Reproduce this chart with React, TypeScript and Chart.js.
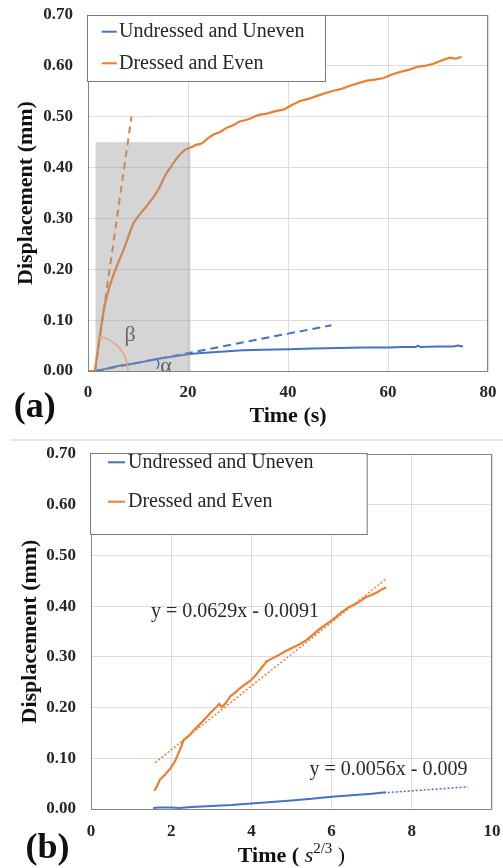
import React, { useEffect, useRef } from "react";
import { Chart, registerables } from "chart.js";
Chart.register(...registerables);

const SERIF = "'Liberation Serif', 'Times New Roman', Times, serif";
const ORANGE = "#ED7D31";
const BLUE = "#4472C4";
const TEXT = "#262626";
const GRID = "#dcdcdc";

const seriesNames = ["Undressed and Uneven", "Dressed and Even"];
const yTickValues = [0, 0.1, 0.2, 0.3, 0.4, 0.5, 0.6, 0.7];

// ---------- Panel (a): displacement vs time (s)
const xTicksA = [0, 20, 40, 60, 80];
const timeA_dressed = [0, 1.4, 1.8, 2.2, 2.6, 3.0, 3.4, 3.9, 4.5, 5.1, 5.8, 6.5, 7.1, 7.8, 8.5, 9.1, 10.1, 11.1, 11.8, 12.4, 13.1, 13.8, 14.4, 15.0, 15.7, 16.4, 17.1, 17.9, 18.7, 19.4, 20.1, 20.9, 21.7, 22.4, 23.0, 24.0, 25.1, 26.4, 27.7, 29.0, 30.4, 31.4, 32.4, 33.4, 34.4, 35.8, 37.5, 39.1, 40.8, 42.4, 44.1, 45.8, 47.4, 49.1, 50.8, 52.4, 54.1, 55.8, 57.4, 59.1, 60.8, 62.4, 64.1, 65.8, 67.4, 69.1, 70.8, 72.4, 73.6, 74.7];
const dispA_dressed = [0, 0, 0.03, 0.058, 0.085, 0.11, 0.132, 0.152, 0.172, 0.189, 0.207, 0.224, 0.238, 0.257, 0.276, 0.291, 0.305, 0.317, 0.325, 0.333, 0.342, 0.352, 0.363, 0.376, 0.389, 0.399, 0.409, 0.42, 0.429, 0.435, 0.438, 0.441, 0.445, 0.446, 0.449, 0.458, 0.465, 0.47, 0.478, 0.483, 0.491, 0.493, 0.496, 0.501, 0.504, 0.506, 0.511, 0.514, 0.523, 0.531, 0.535, 0.541, 0.546, 0.551, 0.555, 0.561, 0.566, 0.571, 0.573, 0.576, 0.583, 0.588, 0.592, 0.598, 0.6, 0.604, 0.611, 0.616, 0.614, 0.618];
const timeA_undressed = [1.4, 2.5, 3.5, 5, 6.5, 8, 10, 12, 14, 16, 18, 20, 22, 25, 28, 31, 35, 40, 45, 50, 55, 60, 63, 65.5, 66, 66.5, 70, 73, 74, 75];
const dispA_undressed = [0, 0.002, 0.004, 0.008, 0.011, 0.013, 0.016, 0.02, 0.024, 0.027, 0.03, 0.033, 0.035, 0.037, 0.039, 0.041, 0.042, 0.043, 0.044, 0.045, 0.046, 0.046, 0.047, 0.047, 0.05, 0.047, 0.048, 0.048, 0.05, 0.048];
const tangentA_dressed_t = [1.4, 8.7];
const tangentA_dressed_d = [0, 0.5];
const tangentA_undressed_t = [1.5, 48.7];
const tangentA_undressed_d = [0, 0.09];
const shadeA_t = [1.5, 20.5];
const shadeA_d = [0, 0.45];

// ---------- Panel (b): displacement vs time^(2/3)
const xTicksB = [0, 2, 4, 6, 8, 10];
const timeB_dressed = [1.58, 1.65, 1.72, 1.85, 2.0, 2.1, 2.22, 2.31, 2.45, 2.6, 2.75, 2.89, 3.05, 3.14, 3.2, 3.26, 3.35, 3.47, 3.6, 3.71, 3.85, 3.96, 4.1, 4.25, 4.38, 4.5, 4.65, 4.87, 5.05, 5.2, 5.37, 5.55, 5.75, 5.95, 6.1, 6.25, 6.45, 6.6, 6.75, 6.86, 7.0, 7.15, 7.25, 7.36];
const dispB_dressed = [0.036, 0.046, 0.058, 0.068, 0.082, 0.095, 0.117, 0.136, 0.145, 0.158, 0.17, 0.182, 0.195, 0.202, 0.207, 0.201, 0.208, 0.222, 0.23, 0.238, 0.246, 0.252, 0.263, 0.278, 0.291, 0.296, 0.302, 0.312, 0.319, 0.325, 0.333, 0.345, 0.358, 0.369, 0.378, 0.388, 0.399, 0.404, 0.412, 0.418, 0.422, 0.428, 0.433, 0.437];
const timeB_undressed = [1.55, 1.7, 2.0, 2.2, 2.5, 3.0, 3.5, 4.0, 4.5, 5.0, 5.5, 6.0, 6.5, 7.0, 7.35];
const dispB_undressed = [0.002, 0.003, 0.003, 0.002, 0.004, 0.006, 0.008, 0.011, 0.014, 0.017, 0.02, 0.024, 0.027, 0.03, 0.033];
const fitB_dressed_x = [1.6, 7.36];
const fitB_dressed_y = [0.0915, 0.4538];
const fitB_undressed_x = [7.3, 9.4];
const fitB_undressed_y = [0.0319, 0.0436];
const eqB_dressed = "y = 0.0629x - 0.0091";
const eqB_undressed = "y = 0.0056x - 0.009";

const pts = (xs: number[], ys: number[]) => xs.map((x, i) => ({ x, y: ys[i] }));

function lineDs(label: string, data: any[], color: string, width: number, dash: number[] = []) {
  return {
    label,
    data,
    borderColor: color,
    backgroundColor: color,
    borderWidth: width,
    borderDash: dash,
    pointRadius: 0,
    pointHoverRadius: 0,
    fill: false,
    tension: 0,
  };
}

function drawFrame(chart: any) {
  const { ctx, chartArea: a } = chart;
  ctx.save();
  ctx.strokeStyle = "#858585";
  ctx.lineWidth = 1;
  ctx.strokeRect(Math.round(a.left) + 0.5, Math.round(a.top) + 0.5, Math.round(a.right - a.left) - 1, Math.round(a.bottom - a.top));
  ctx.restore();
}

function drawLegend(chart: any, box: { l: number; t: number; r: number; b: number }, rows: number[], lx: number[], tx: number) {
  const { ctx } = chart;
  ctx.save();
  ctx.fillStyle = "#ffffff";
  ctx.fillRect(box.l, box.t, box.r - box.l, box.b - box.t);
  ctx.strokeStyle = "#7a7a7a";
  ctx.lineWidth = 1;
  ctx.strokeRect(box.l + 0.5, box.t + 0.5, box.r - box.l, box.b - box.t);
  const order = [1, 0];
  order.forEach((di, i) => {
    const ds = chart.data.datasets[di];
    const y = rows[i];
    ctx.strokeStyle = ds.borderColor;
    ctx.lineWidth = 2;
    ctx.beginPath();
    ctx.moveTo(lx[0], y);
    ctx.lineTo(lx[1], y);
    ctx.stroke();
    ctx.fillStyle = TEXT;
    ctx.font = `20px ${SERIF}`;
    ctx.textAlign = "left";
    ctx.textBaseline = "middle";
    ctx.fillText(ds.label, tx, y);
  });
  ctx.restore();
}

function drawPanelLetter(chart: any, text: string, x: number, y: number) {
  const { ctx } = chart;
  ctx.save();
  ctx.fillStyle = "#111";
  ctx.font = `bold 36px ${SERIF}`;
  ctx.textAlign = "center";
  ctx.textBaseline = "middle";
  ctx.fillText(text, x, y);
  ctx.restore();
}

const annotA = {
  id: "annotA",
  afterDatasetsDraw(chart: any) {
    const { ctx, scales } = chart;
    const x = scales.x;
    const y = scales.y;
    ctx.save();
    // shaded region
    const x0 = x.getPixelForValue(shadeA_t[0]);
    const x1 = x.getPixelForValue(shadeA_t[1]);
    const y0 = y.getPixelForValue(shadeA_d[0]);
    const y1 = y.getPixelForValue(shadeA_d[1]);
    ctx.fillStyle = "rgba(150,150,150,0.4)";
    ctx.fillRect(x0, y1, x1 - x0, y0 - y1);
    // beta arc
    const cx = x.getPixelForValue(1.0);
    const cy = y.getPixelForValue(0);
    ctx.strokeStyle = "#E9A27A";
    ctx.lineWidth = 1.5;
    ctx.beginPath();
    ctx.arc(cx, cy, 35, (-82 * Math.PI) / 180, 0);
    ctx.stroke();
    // alpha arc
    const ax = x.getPixelForValue(12.4);
    const ay = y.getPixelForValue(0.0138);
    ctx.strokeStyle = BLUE;
    ctx.lineWidth = 1.5;
    ctx.beginPath();
    ctx.arc(ax, ay, 8.5, (-40 * Math.PI) / 180, (35 * Math.PI) / 180);
    ctx.stroke();
    // labels
    ctx.fillStyle = "#6a6a6a";
    ctx.font = `22px ${SERIF}`;
    ctx.textAlign = "center";
    ctx.textBaseline = "middle";
    ctx.fillText("β", x.getPixelForValue(8.4), y.getPixelForValue(0.071));
    ctx.fillStyle = "#5a6070";
    ctx.fillText("α", x.getPixelForValue(15.6), y.getPixelForValue(0.01));
    ctx.restore();
  },
  afterDraw(chart: any) {
    drawFrame(chart);
    drawLegend(chart, { l: 87, t: 15, r: 325, b: 81 }, [31.7, 63.3], [101.7, 116.7], 119);
    drawPanelLetter(chart, "(a)", 34.7, 408);
  },
};

const annotB = {
  id: "annotB",
  afterDatasetsDraw(chart: any) {
    const { ctx, scales } = chart;
    const x = scales.x;
    const y = scales.y;
    ctx.save();
    ctx.fillStyle = "#2a2a2a";
    ctx.font = `20px ${SERIF}`;
    ctx.textAlign = "center";
    ctx.textBaseline = "middle";
    ctx.fillText(eqB_dressed, x.getPixelForValue(3.59), y.getPixelForValue(0.388));
    ctx.fillText(eqB_undressed, x.getPixelForValue(7.42), y.getPixelForValue(0.077));
    ctx.restore();
  },
  afterDraw(chart: any) {
    const { ctx, chartArea: a } = chart;
    drawFrame(chart);
    drawLegend(chart, { l: 90, t: 13, r: 366.7, b: 94 }, [22.3, 61.7], [108, 125], 128);
    drawPanelLetter(chart, "(b)", 47.5, 409);
    // x-axis title: Time ( s^(2/3) )
    ctx.save();
    const parts = [
      { t: "Time (", f: `bold 22px ${SERIF}`, dy: 0 },
      { t: " ", f: `22px ${SERIF}`, dy: 0 },
      { t: "s", f: `italic 22px ${SERIF}`, dy: 0 },
      { t: "2/3", f: `15px ${SERIF}`, dy: -8 },
      { t: " )", f: `22px ${SERIF}`, dy: 0 },
    ];
    let total = 0;
    const widths = parts.map((p) => {
      ctx.font = p.f;
      const w = ctx.measureText(p.t).width;
      total += w;
      return w;
    });
    let cx = (a.left + a.right) / 2 - total / 2;
    const cy = 416.7;
    ctx.fillStyle = "#111";
    ctx.textAlign = "left";
    ctx.textBaseline = "middle";
    parts.forEach((p, i) => {
      ctx.font = p.f;
      ctx.fillText(p.t, cx, cy + p.dy);
      cx += widths[i];
    });
    ctx.restore();
  },
};

function axisCommon(min: number, max: number, tickValues: number[], fmt: (v: number) => string, pad: number) {
  return {
    type: "linear" as const,
    min,
    max,
    afterBuildTicks: (s: any) => {
      s.ticks = tickValues.map((v) => ({ value: v }));
    },
    ticks: {
      callback: (v: any) => fmt(Number(v)),
      font: { family: SERIF, size: 17, weight: "bold" as const },
      color: TEXT,
      padding: pad,
    },
    grid: { color: GRID, lineWidth: 1, drawTicks: false },
    border: { display: false },
  };
}

function fixedFit(size: number, horizontal: boolean) {
  return (s: any) => {
    if (horizontal) s.height = size;
    else s.width = size;
    s.paddingTop = 0;
    s.paddingBottom = 0;
    s.paddingLeft = 0;
    s.paddingRight = 0;
  };
}

function configA() {
  return {
    type: "line" as const,
    data: {
      datasets: [
        lineDs(seriesNames[1], pts(timeA_dressed, dispA_dressed), ORANGE, 2.2),
        lineDs(seriesNames[0], pts(timeA_undressed, dispA_undressed), BLUE, 2),
        lineDs("Dressed tangent", pts(tangentA_dressed_t, tangentA_dressed_d), ORANGE, 2, [7, 5]),
        lineDs("Undressed tangent", pts(tangentA_undressed_t, tangentA_undressed_d), BLUE, 2, [8, 5]),
      ],
    },
    options: {
      responsive: false,
      animation: false as const,
      devicePixelRatio: 1,
      layout: { padding: { left: 0, right: 15, top: 15, bottom: 0 } },
      plugins: { legend: { display: false }, tooltip: { enabled: false } },
      scales: {
        x: {
          ...axisCommon(0, 80, xTicksA, (v) => String(v), 11),
          title: { display: true, text: "Time (s)", font: { family: SERIF, size: 22, weight: "bold" as const }, color: "#111", padding: { top: 0, bottom: 2 } },
          afterFit: fixedFit(61, true),
        },
        y: {
          ...axisCommon(0, 0.7, yTickValues, (v) => v.toFixed(2), 15),
          title: { display: true, text: "Displacement (mm)", font: { family: SERIF, size: 22, weight: "bold" as const }, color: "#111", padding: { top: 13, bottom: 0 } },
          afterFit: fixedFit(88, false),
        },
      },
    },
    plugins: [annotA],
  };
}

function configB() {
  return {
    type: "line" as const,
    data: {
      datasets: [
        lineDs(seriesNames[1], pts(timeB_dressed, dispB_dressed), ORANGE, 2.2),
        lineDs(seriesNames[0], pts(timeB_undressed, dispB_undressed), BLUE, 2),
        lineDs("Linear (Dressed and Even)", pts(fitB_dressed_x, fitB_dressed_y), ORANGE, 1.5, [2, 2]),
        lineDs("Linear (Undressed and Uneven)", pts(fitB_undressed_x, fitB_undressed_y), BLUE, 1.5, [2, 2]),
      ],
    },
    options: {
      responsive: false,
      animation: false as const,
      devicePixelRatio: 1,
      layout: { padding: { left: 0, right: 11, top: 14, bottom: 0 } },
      plugins: { legend: { display: false }, tooltip: { enabled: false } },
      scales: {
        x: {
          ...axisCommon(0, 10, xTicksB, (v) => String(v), 12),
          title: { display: false },
          afterFit: fixedFit(59, true),
        },
        y: {
          ...axisCommon(0, 0.7, yTickValues, (v) => v.toFixed(2), 15),
          title: { display: true, text: "Displacement (mm)", font: { family: SERIF, size: 22, weight: "bold" as const }, color: "#111", padding: { top: 17, bottom: 0 } },
          afterFit: fixedFit(91, false),
        },
      },
    },
    plugins: [annotB],
  };
}

function ChartCanvas({ make, width, height, top }: { make: () => any; width: number; height: number; top: number }) {
  const ref = useRef<HTMLCanvasElement | null>(null);
  useEffect(() => {
    if (!ref.current) return;
    const chart = new Chart(ref.current, make());
    return () => chart.destroy();
  }, []);
  return (
    <canvas
      ref={ref}
      width={width}
      height={height}
      style={{ position: "absolute", left: 0, top, width, height, display: "block" }}
    />
  );
}

export default function App() {
  return (
    <div style={{ position: "absolute", left: 0, top: 0, width: 503, height: 868, background: "#fff", overflow: "hidden" }}>
      <ChartCanvas make={configA} width={503} height={432} top={0} />
      <ChartCanvas make={configB} width={503} height={428} top={440} />
      <div style={{ position: "absolute", left: 10, top: 439, width: 493, height: 2, background: "#e6e6e6" }} />
    </div>
  );
}
